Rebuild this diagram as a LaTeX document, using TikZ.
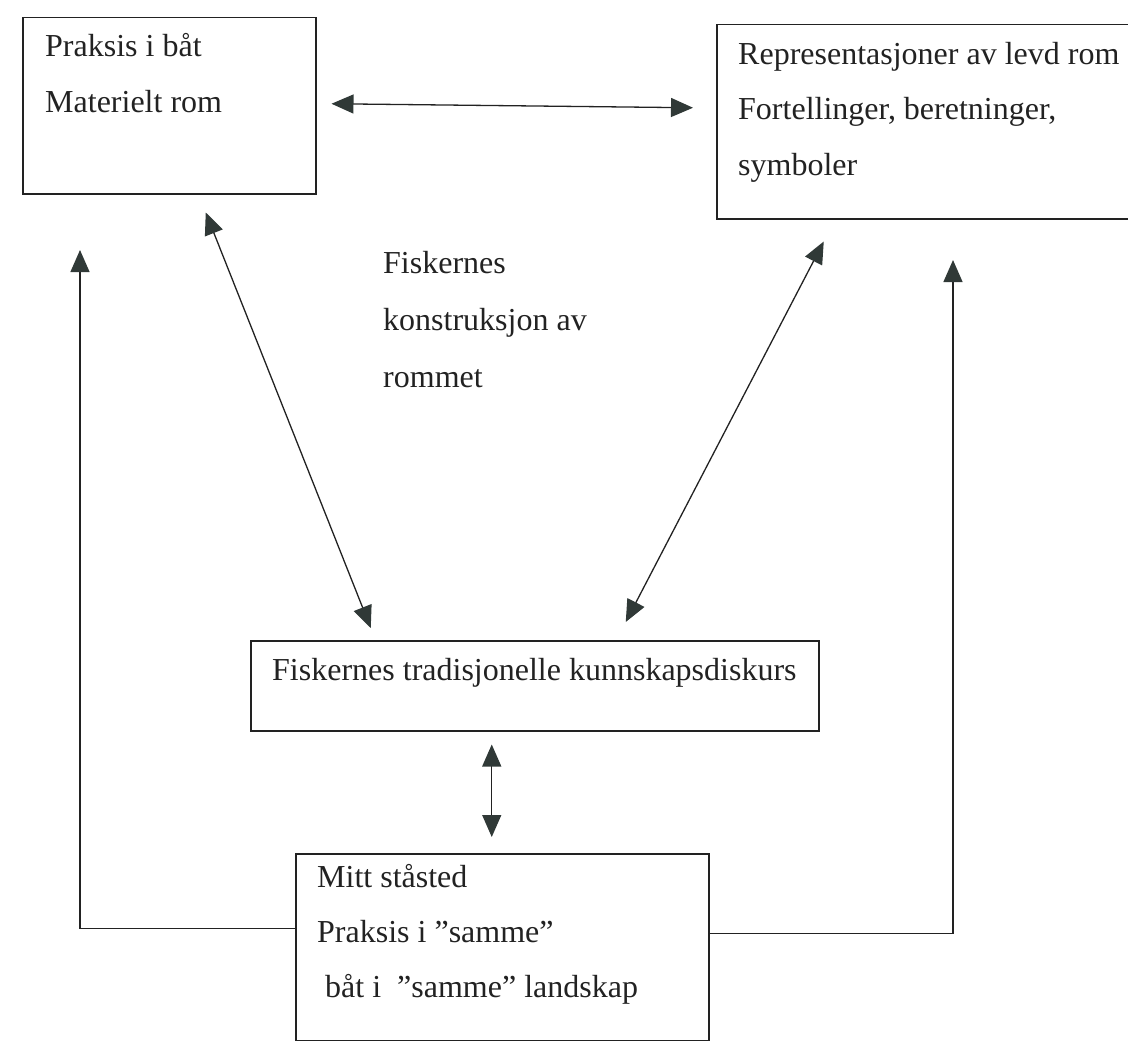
\documentclass[tikz,border=0pt]{standalone}
\usepackage{fontspec}
\setmainfont{Liberation Serif}
\usetikzlibrary{arrows.meta,calc}
\definecolor{ink}{HTML}{222222}
\definecolor{headc}{HTML}{303937}
\begin{document}
\begin{tikzpicture}[x=1pt,y=-1pt,
  box/.style={draw=ink,line width=1.5pt,rectangle,inner sep=0pt,anchor=north west},
  txt/.style={anchor=base west,inner sep=0pt,text=ink,font=\fontsize{32}{38}\selectfont},
  link/.style={draw=ink,line width=1.3pt},
  tip/.style={-{Triangle[length=22pt,width=19pt,fill=headc,color=headc]}},
  dtip/.style={{Triangle[length=22pt,width=19pt,fill=headc,color=headc]}-{Triangle[length=22pt,width=19pt,fill=headc,color=headc]}}
]
\useasboundingbox (0,0) rectangle (1128,1041);
% boxes
\node[box,minimum width=293pt,minimum height=176pt] (A) at (22,17) {};
\node[box,minimum width=419pt,minimum height=194pt] (B) at (716,24) {};
\node[box,minimum width=568pt,minimum height=90pt] (C) at (250,640) {};
\node[box,minimum width=413pt,minimum height=187pt] (D) at (295,853) {};
% texts
\node[txt] (a1) at (45,57) {Praksis i båt};
\node[txt] (a2) at (45,113) {Materielt rom};
\node[txt] (b1) at (738,65) {Representasjoner av levd rom};
\node[txt] (b2) at (738,120) {Fortellinger, beretninger,};
\node[txt] (b3) at (738,175) {symboler};
\node[txt] (c1) at (272,680) {Fiskernes tradisjonelle kunnskapsdiskurs};
\node[txt] (d1) at (317,887) {Mitt ståsted};
\node[txt] (d2) at (317,942) {Praksis i ”samme”};
\node[txt] (d3) at (317,997) {\ båt i \ ”samme” landskap};
\node[txt] (f1) at (383,273) {Fiskernes};
\node[txt] (f2) at (383,330) {konstruksjon av};
\node[txt] (f3) at (383,387) {rommet};
% connectors
\draw[link,dtip] ($(A.east)+(15,-2)$) -- ($(A.east -| B.west)+(-23,2)$);
\draw[link,dtip] ($(A.south)+(36.5,18)$) -- ($(C.north)+(-164,-12)$);
\draw[link,dtip] ($(B.south)+(-102.5,22)$) -- ($(C.north)+(91,-18)$);
\draw[link,dtip] ($(C.south)+(-43,13)$) -- ($(D.north)+(-10.5,-16)$);
\coordinate (Ltip) at (80,250);
\coordinate (Rtip) at (953,260);
\draw[link,tip] ($(D.west)+(0,-18.5)$) -| (Ltip);
\draw[link,tip] ($(D.east)+(0,-13.5)$) -| (Rtip);
\end{tikzpicture}
\end{document}
